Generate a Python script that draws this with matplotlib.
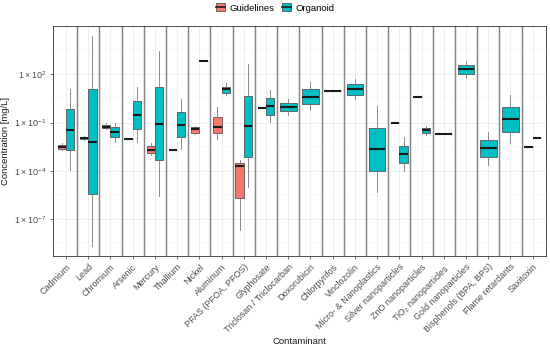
import matplotlib
matplotlib.use("Agg")
import matplotlib.pyplot as plt
from matplotlib.patches import Patch
from matplotlib.lines import Line2D
from matplotlib.legend_handler import HandlerTuple
import numpy as np

plt.rcParams['font.family'] = ['Liberation Sans', 'DejaVu Sans']
plt.rcParams['mathtext.fontset'] = 'custom'
plt.rcParams['mathtext.rm'] = 'Liberation Sans'
plt.rcParams['mathtext.it'] = 'Liberation Sans'

categories = ["Cadmium", "Lead", "Chromium", "Arsenic", "Mercury", "Thallium", "Nickel",
              "Aluminum", "PFAS (PFOA, PFOS)", "Glyphosate", "Triclosan / Triclocarban",
              "Doxorubicin", "Chlorpyrifos", "Vinclozolin", "Micro- & Nanoplastics",
              "Silver nanoparticles", "ZnO nanoparticles", "TiO$_2$ nanoparticles",
              "Gold nanoparticles", "Bisphenols (BPA, BPS)", "Flame retardants", "Saxitoxin"]

groups = ["Guidelines", "Organoid"]
colors = {"Guidelines": "#F8766D", "Organoid": "#00BFC4"}

# Guidelines five-number summaries (mg/L); None = no data
g_whislo = [1.99e-3, 8.7e-3, 3.8e-2, 1.0e-2, 1.0e-3, 1.9e-3, 2.05e-2, 1.0e-2, 1.93e-8, 0.81,
            None, None, None, None, None, 9.9e-2, 3.9, None, None, None, None, 2.9e-3]
g_q1 = [2.4e-3, 9.6e-3, 4.4e-2, 1.0e-2, 1.35e-3, 1.9e-3, 2.36e-2, 2.16e-2, 2.0e-6, 0.81,
        None, None, None, None, None, 9.9e-2, 3.9, None, None, None, None, 2.9e-3]
g_med = [3.2e-3, 1.1e-2, 5.6e-2, 1.0e-2, 2.0e-3, 1.9e-3, 3.8e-2, 5.1e-2, 2.0e-4, 0.81,
         None, None, None, None, None, 9.9e-2, 3.9, None, None, None, None, 2.9e-3]
g_q3 = [4.1e-3, 1.28e-2, 6.8e-2, 1.0e-2, 3.5e-3, 1.9e-3, 5.1e-2, 0.213, 3.0e-4, 0.81,
        None, None, None, None, None, 9.9e-2, 3.9, None, None, None, None, 2.9e-3]
g_whishi = [5.2e-3, 1.41e-2, 9.9e-2, 1.0e-2, 5.6e-3, 1.9e-3, 6.2e-2, 0.89, 4.8e-4, 0.81,
            None, None, None, None, None, 9.9e-2, 3.9, None, None, None, None, 2.9e-3]

# Organoid five-number summaries (mg/L)
o_whislo = [1.14e-4, 1.96e-9, 6.2e-3, 6.2e-3, 2.8e-6, 2.2e-3, 6.4e2, 5.4, 1.04e-5, 0.104,
            0.31, 0.61, 9.2, 2.8, 4.9e-6, 1.03e-4, 1.7e-2, 2.05e-2, 61.5, 2.3e-4, 5.2e-3, 1.15e-2]
o_q1 = [2.0e-3, 3.5e-6, 1.22e-2, 4.2e-2, 4.8e-4, 1.22e-2, 6.4e2, 7.2, 7.6e-4, 0.31,
        0.52, 1.49, 9.2, 5.4, 1.03e-4, 3.2e-4, 2.36e-2, 2.05e-2, 104, 7.3e-4, 2.7e-2, 1.15e-2]
o_med = [3.5e-2, 6.2e-3, 2.6e-2, 0.31, 8.6e-2, 7.4e-2, 6.4e2, 11.7, 6.2e-2, 1.07,
         0.97, 4.1, 9.2, 11.7, 2.4e-3, 1.07e-3, 3.3e-2, 2.05e-2, 205, 2.64e-3, 0.16, 1.15e-2]
o_q3 = [0.67, 12.2, 5.1e-2, 2.2, 15.6, 0.475, 6.4e2, 17.0, 4.5, 3.2,
        1.58, 12.2, 9.2, 25.0, 4.4e-2, 3.5e-3, 4.4e-2, 2.05e-2, 378, 8.3e-3, 0.89, 1.15e-2]
o_whishi = [12.2, 2.4e4, 9.9e-2, 16.3, 2.8e3, 2.9, 6.4e2, 27.6, 418, 10.6,
            2.9, 33.3, 9.2, 53.3, 1.07, 1.22e-2, 6.2e-2, 2.05e-2, 700, 2.7e-2, 5.0, 1.15e-2]

data = {
    "Guidelines": (g_whislo, g_q1, g_med, g_q3, g_whishi),
    "Organoid": (o_whislo, o_q1, o_med, o_q3, o_whishi),
}

fig = plt.figure(figsize=(5.5, 3.47), dpi=100)
ax = fig.add_axes([52.7/550, 1-256/347, (546-52.7)/550, (256-26)/347])

ax.set_yscale('log')
ax.set_ylim(10**-9.3, 10**5.0)
ax.set_xlim(0.4, len(categories) + 0.6)

# grid
major = [1e-7, 1e-4, 1e-1, 1e2]
minor = [10**-8.5, 10**-5.5, 10**-2.5, 10**0.5, 10**3.5]
ax.set_yticks(major)
ax.set_yticks(minor, minor=True)
ax.set_yticklabels([r'$1\times10^{-7}$', r'$1\times10^{-4}$', r'$1\times10^{-1}$', r'$1\times10^{2}$'])
for y in major:
    ax.axhline(y, color='#EBEBEB', lw=0.6, zorder=0)
for y in minor:
    ax.axhline(y, color='#F2F2F2', lw=0.35, zorder=0)
xs = np.arange(1, len(categories) + 1)
for x in xs:
    ax.axvline(x, color='#EBEBEB', lw=0.6, zorder=0)
for x in xs[:-1]:
    ax.axvline(x + 0.5, color='#858585', lw=1.05, zorder=1)

for i, cat in enumerate(categories):
    present = [g for g in groups if data[g][0][i] is not None]
    n = len(present)
    for j, g in enumerate(present):
        wl, q1, md, q3, wh = (arr[i] for arr in data[g])
        if n == 2:
            pos = xs[i] + (-0.1875 if j == 0 else 0.1875)
            w = 0.375
        else:
            pos = xs[i]
            w = 0.75
        st = [dict(whislo=wl, q1=q1, med=md, q3=q3, whishi=wh, fliers=[])]
        ax.bxp(st, positions=[pos], widths=w, patch_artist=True, showcaps=False,
               boxprops=dict(facecolor=colors[g], edgecolor='#555555', linewidth=0.6),
               whiskerprops=dict(color='#777777', linewidth=0.6),
               medianprops=dict(color='#1A1A1A', linewidth=1.5, solid_capstyle='butt'),
               manage_ticks=False, zorder=3)

ax.set_xticks(xs)
ax.set_xticklabels(categories, rotation=45, ha='right', rotation_mode='anchor')
ax.tick_params(axis='both', which='major', length=2.5, width=0.5, color='#333333',
               labelsize=6.5, labelcolor='#4D4D4D', pad=2)
ax.tick_params(axis='y', which='minor', length=0)
for s in ax.spines.values():
    s.set_color('#333333')
    s.set_linewidth(0.6)

ax.set_ylabel('Concentration [mg/L]', fontsize=6.8, color='#1A1A1A', labelpad=3)
ax.set_xlabel('Contaminant', fontsize=6.8, color='#1A1A1A', labelpad=2)

handles = []
for g in groups:
    p = Patch(facecolor=colors[g], edgecolor='#555555', linewidth=0.6)
    ln = Line2D([0], [0], color='#1A1A1A', lw=1.2)
    handles.append((p, ln))
fig.legend(handles=handles, labels=groups, loc='center', bbox_to_anchor=(0.5, 1 - 8/347), ncol=2,
           frameon=False, fontsize=6.8, handlelength=1.0, handleheight=0.9,
           handletextpad=0.4, columnspacing=0.8,
           handler_map={tuple: HandlerTuple(ndivide=1, pad=0)})

fig.savefig('out.png', dpi=100)
